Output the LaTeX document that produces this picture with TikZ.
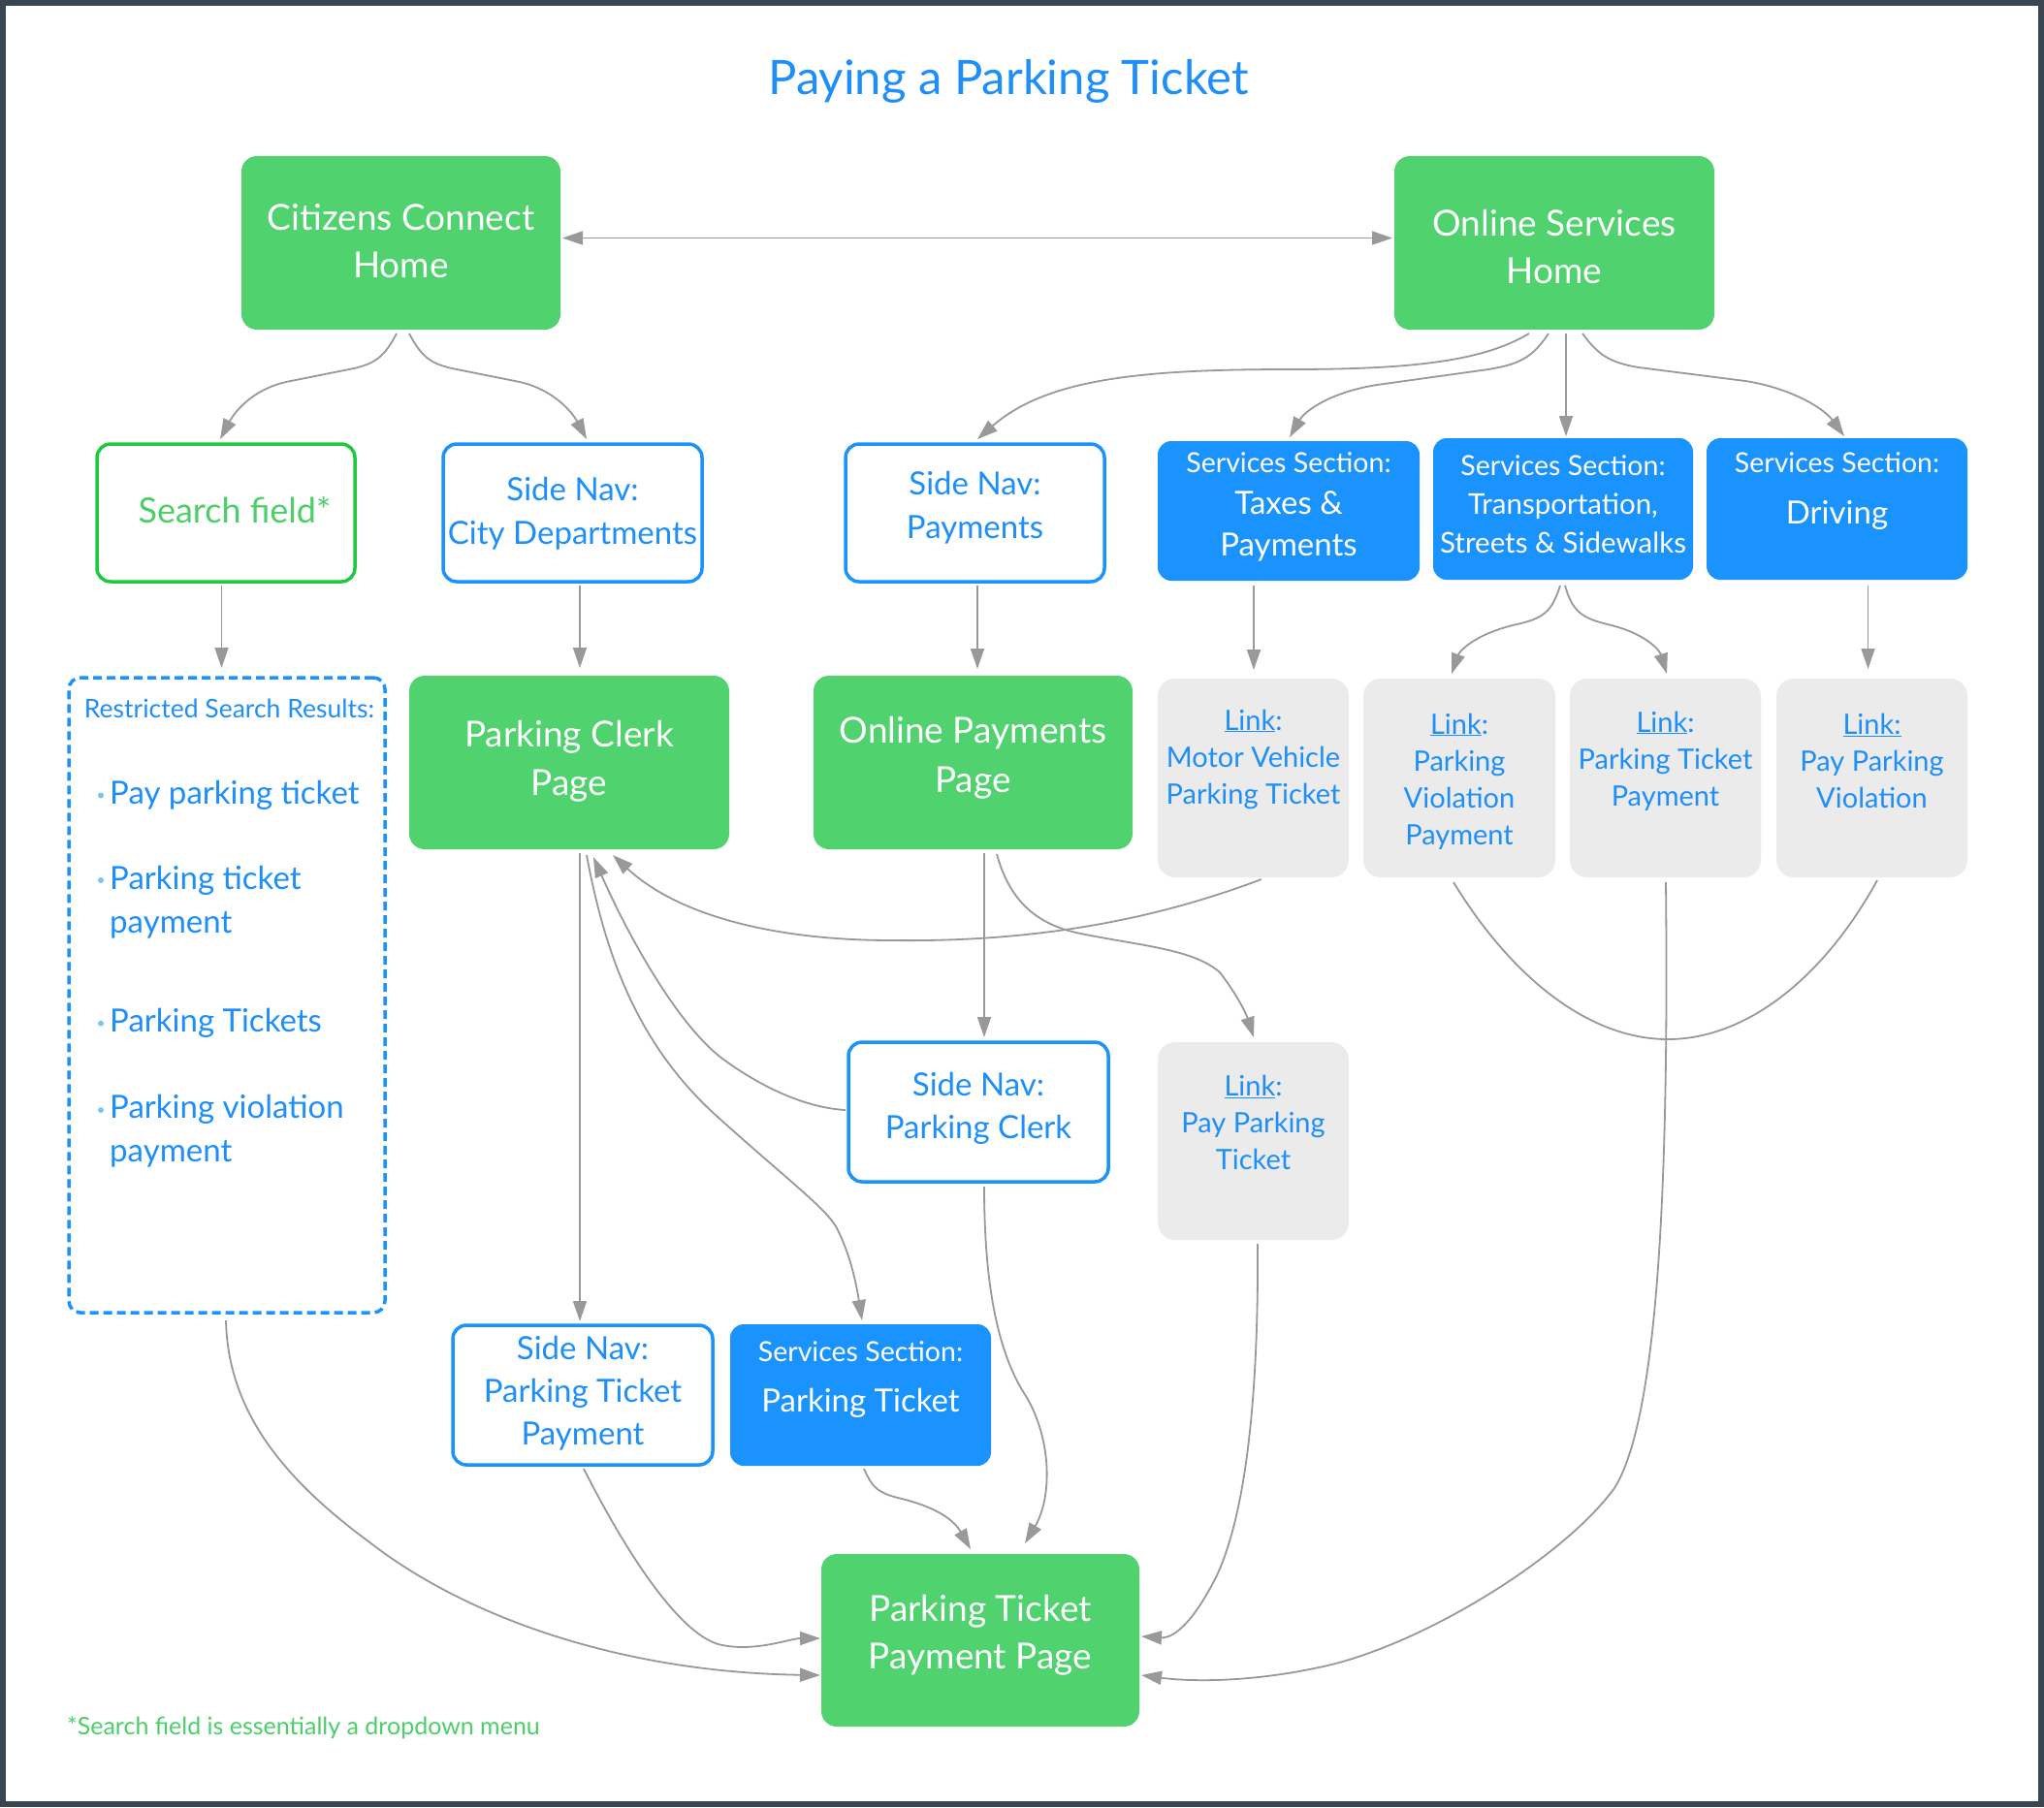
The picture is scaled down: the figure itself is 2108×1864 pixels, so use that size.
\documentclass[tikz,border=0pt]{standalone}
\usepackage{fontspec}
\setmainfont{Lato}
\usetikzlibrary{calc,arrows.meta}
\definecolor{gfill}{HTML}{50D26E}
\definecolor{bfill}{HTML}{1A93FE}
\definecolor{tblue}{HTML}{1E8FFA}
\definecolor{gborder}{HTML}{1EC840}
\definecolor{gtext}{HTML}{4CCF68}
\definecolor{grayfill}{HTML}{EBEBEB}
\definecolor{connc}{HTML}{999999}
\definecolor{framec}{HTML}{3A4552}
\definecolor{bulletc}{HTML}{7CC5F0}
\begin{document}
\begin{tikzpicture}[x=1pt,y=-1pt,
  sz/.style 2 args={minimum width=#1pt, minimum height=#2pt, inner sep=0pt, outer sep=0pt},
  greenbox/.style={rectangle, fill=gfill, rounded corners=16pt},
  bluebox/.style={rectangle, fill=bfill, rounded corners=14pt},
  graybox/.style={rectangle, fill=grayfill, rounded corners=18pt},
  navbox/.style={rectangle, draw=bfill, line width=3.5pt, fill=white, rounded corners=14pt},
  searchbox/.style={rectangle, draw=gborder, line width=3.5pt, fill=white, rounded corners=14pt},
  dashbox/.style={rectangle, draw=bfill, line width=3.5pt, dash pattern=on 9pt off 5pt, rounded corners=12pt},
  wtxt/.style={text=white, align=center, inner sep=0pt},
  btxt/.style={text=tblue, align=center, inner sep=0pt},
  big/.style={font=\fontsize{37}{49}\selectfont},
  mid/.style={font=\fontsize{33}{45}\selectfont},
  small/.style={font=\fontsize{29}{38}\selectfont},
  item/.style={text=tblue, inner sep=0pt, anchor=west, align=left, font=\fontsize{33}{45}\selectfont},
  conn/.style={draw=connc, line width=1.8pt},
  arr/.style={conn, -{Triangle[length=21pt,width=14pt]}},
  darr/.style={conn, {Triangle[length=21pt,width=14pt]}-{Triangle[length=21pt,width=14pt]}}
]
\useasboundingbox (0,0) rectangle (2108,1864);
\fill[white] (0,0) rectangle (2108,1864);
\draw[framec, line width=6pt] (3,3) rectangle (2105,1861);

% title
\node[text=tblue, font=\fontsize{49}{56}\selectfont] (title) at (1040,84) {Paying a Parking Ticket};

% boxes
\node[greenbox, sz={329}{179}] (cch) at (413.5,250.5) {};
\node[greenbox, sz={330}{179}] (osh) at (1603,250.5) {};
\node[searchbox, sz={266}{142}] (sf) at (233,529) {};
\node[navbox, sz={267}{142}] (sncd) at (590.5,529) {};
\node[navbox, sz={267}{142}] (snp) at (1005.5,529) {};
\node[bluebox, sz={270}{144}] (sstp) at (1329,527) {};
\node[bluebox, sz={268}{146}] (sstr) at (1612,525) {};
\node[bluebox, sz={269}{146}] (ssdr) at (1894.5,525) {};
\node[dashbox, sz={326}{655}] (rsr) at (234,1026.5) {};
\node[greenbox, sz={330}{179}] (pcp) at (587,786.5) {};
\node[greenbox, sz={329}{179}] (opp) at (1003.5,786.5) {};
\node[graybox, sz={197}{205}] (lmv) at (1292.5,802.5) {};
\node[graybox, sz={198}{205}] (lpvp) at (1505,802.5) {};
\node[graybox, sz={197}{205}] (lptp) at (1717.5,802.5) {};
\node[graybox, sz={197}{205}] (lppv) at (1930.5,802.5) {};
\node[navbox, sz={268}{144}] (snpc) at (1009,1147) {};
\node[graybox, sz={197}{204}] (lppt) at (1292.5,1177) {};
\node[navbox, sz={268}{144}] (snptp) at (601,1439) {};
\node[bluebox, sz={269}{146}] (sspt) at (887.5,1439) {};
\node[greenbox, sz={328}{178}] (ptpp) at (1011,1692) {};

% texts
\node[wtxt, big] (cch-t) at (413.5,249) {Citizens Connect\\Home};
\node[wtxt, big] (osh-t) at (1603,254) {Online Services\\Home};
\node[text=gtext, inner sep=0pt, font=\fontsize{36}{45}\selectfont] (sf-t) at (242,526) {Search field*};
\node[btxt, mid] (sncd-t) at (590.5,530) {Side Nav:\\City Departments};
\node[btxt, mid] (snp-t) at (1005.5,524) {Side Nav:\\Payments};
\node[wtxt, font=\fontsize{33}{43}\selectfont] (sstp-t) at (1329,523) {{\fontsize{28.5}{43}\selectfont Services Section:}\\Taxes \&\\Payments};
\node[wtxt, font=\fontsize{29.5}{40}\selectfont] (sstr-t) at (1612,520) {{\fontsize{28.5}{40}\selectfont Services Section:}\\Transportation,\\Streets \& Sidewalks};
\node[wtxt, font=\fontsize{33}{43}\selectfont] (ssdr-t) at (1894.5,507) {{\fontsize{28.5}{43}\selectfont Services Section:}\\[10pt]Driving};
\node[wtxt, font=\fontsize{37}{50}\selectfont] (pcp-t) at (587,785) {Parking Clerk\\Page};
\node[wtxt, font=\fontsize{37}{51}\selectfont] (opp-t) at (1003.5,782) {Online Payments\\Page};
\node[btxt, small] (lmv-t) at (1292.5,783) {\underline{Link}:\\Motor Vehicle\\Parking Ticket};
\node[btxt, small] (lpvp-t) at (1505,806) {\underline{Link}:\\Parking\\Violation\\Payment};
\node[btxt, small] (lptp-t) at (1717.5,785) {\underline{Link}:\\Parking Ticket\\Payment};
\node[btxt, small] (lppv-t) at (1930.5,785) {\underline{Link:}\\Pay Parking\\Violation};
\node[btxt, font=\fontsize{33}{44}\selectfont] (snpc-t) at (1009,1143) {Side Nav:\\Parking Clerk};
\node[btxt, small] (lppt-t) at (1292.5,1158) {\underline{Link}:\\Pay Parking\\Ticket};
\node[btxt, font=\fontsize{33}{44}\selectfont] (snptp-t) at (601,1437) {Side Nav:\\Parking Ticket\\Payment};
\node[wtxt, font=\fontsize{33}{43}\selectfont] (sspt-t) at (887.5,1423) {{\fontsize{28.5}{43}\selectfont Services Section:}\\[9pt]Parking Ticket};
\node[wtxt, big] (ptpp-t) at (1011,1687) {Parking Ticket\\Payment Page};

% restricted search results
\node[text=tblue, inner sep=0pt, font=\fontsize{26.5}{32}\selectfont] (rsr-t) at (236.5,731) {Restricted Search Results:};
\node[item] (rsr-i1) at (113,820.5) {Pay parking ticket};
\node[item] (rsr-i2) at (113,930.5) {Parking ticket\\payment};
\node[item] (rsr-i3) at (113,1055.7) {Parking Tickets};
\node[item] (rsr-i4) at (113,1167) {Parking violation\\payment};
\fill[bulletc] (104,820.5) circle (3);
\fill[bulletc] (104,908) circle (3);
\fill[bulletc] (104,1055.7) circle (3);
\fill[bulletc] (104,1145) circle (3);

% footnote
\node[text=gtext, inner sep=0pt, anchor=west, font=\fontsize{25}{30}\selectfont] (foot) at (69,1782) {*Search field is essentially a dropdown menu};

% connectors
\draw[darr] ($(cch.east)+(2,-5)$) -- ($(osh.west)+(-2,-5)$);
\draw[arr] ($(cch.south)+(-4.5,4)$) .. controls (396,369) and (386,375) .. (365,380) -- (295,394) .. controls (260,402) and (242,425) .. ($(sf.north)+(-6,-5)$);
\draw[arr] ($(cch.south)+(8.5,4)$) .. controls (435,369) and (445,375) .. (466,380) -- (536,394) .. controls (571,402) and (590,425) .. ($(sncd.north)+(14.5,-5)$);
\draw[arr] ($(osh.south)+(-26,4)$) .. controls (1530,372) and (1460,381) .. (1330,381) .. controls (1180,381) and (1080,390) .. ($(snp.north)+(2.5,-5)$);
\draw[arr] ($(osh.south)+(-6,4)$) .. controls (1580,370) and (1565,376) .. (1535,381) -- (1420,397) .. controls (1370,405) and (1345,425) .. ($(sstp.north)+(1,-4)$);
\draw[arr] ($(osh.south)+(12,4)$) -- ($(sstr.north)+(3,-2)$);
\draw[arr] ($(osh.south)+(29,4)$) .. controls (1648,366) and (1660,374) .. (1690,379) -- (1800,393) .. controls (1845,400) and (1880,420) .. ($(ssdr.north)+(7.5,-2)$);
\draw[arr] ($(sf.south)+(-4.5,4)$) -- ($(rsr.north)+(-5.5,-10)$);
\draw[arr] ($(sncd.south)+(7.5,4)$) -- ($(pcp.north)+(11,-8)$);
\draw[arr] ($(snp.south)+(2.5,4)$) -- ($(opp.north)+(4.5,-7)$);
\draw[arr] ($(sstp.south)+(-36,5)$) -- ($(lmv.north)+(0.5,-9)$);
\draw[arr] ($(sstr.south)+(-3,6)$) .. controls (1600,632) and (1592,638) .. (1560,645) .. controls (1520,655) and (1505,672) .. ($(lpvp.north)+(-8,-5)$);
\draw[arr] ($(sstr.south)+(2,6)$) .. controls (1622,632) and (1632,638) .. (1662,645) .. controls (1700,655) and (1712,672) .. ($(lptp.north)+(1.5,-5)$);
\draw[arr] ($(ssdr.south)+(32,6)$) -- ($(lppv.north)+(-4,-10)$);
\draw[arr] ($(lmv.south)+(8.5,2)$) .. controls (1200,945) and (1080,972) .. (920,970) .. controls (800,970) and (700,945) .. ($(pcp.south)+(45,6)$);
\draw[arr] ($(snpc.west)+(-3,-2)$) .. controls (835,1143) and (790,1125) .. (745,1092) .. controls (700,1058) and (650,970) .. ($(pcp.south)+(25,8)$);
\draw[arr] ($(pcp.south)+(11,4)$) -- ($(snptp.north)+(-3,-4)$);
\draw[arr] ($(pcp.south)+(18,6)$) .. controls (625,990) and (660,1080) .. (740,1152) .. controls (810,1215) and (850,1245) .. (862,1265) .. controls (878,1295) and (884,1330) .. ($(sspt.north)+(1.5,-4)$);
\draw[arr] ($(opp.south)+(11.5,4)$) -- ($(snpc.north)+(6,-5)$);
\draw[arr] ($(opp.south)+(24.5,5)$) .. controls (1040,925) and (1065,952) .. (1110,962) .. controls (1170,975) and (1230,978) .. (1258,1003) .. controls (1275,1025) and (1285,1045) .. ($(lppt.north)+(0.5,-5)$);
\draw[arr] ($(snpc.south)+(6,5)$) .. controls (1015,1310) and (1025,1390) .. (1058,1440) .. controls (1085,1485) and (1085,1545) .. ($(ptpp.north)+(46,-11)$);
\draw[arr] ($(sspt.south)+(3.5,3)$) .. controls (900,1535) and (905,1540) .. (930,1546) .. controls (970,1556) and (985,1570) .. ($(ptpp.north)+(-10,-5)$);
\draw[arr] ($(snptp.south)+(1,4)$) .. controls (650,1610) and (705,1690) .. (745,1697) .. controls (780,1704) and (815,1690) .. ($(ptpp.west)+(-1,-2)$);
\draw[arr] ($(rsr.south)+(-1,8)$) .. controls (235,1450) and (285,1520) .. (380,1590) .. controls (480,1668) and (640,1725) .. ($(ptpp.west)+(-1,36)$);
\draw[arr] ($(lppt.south)+(4.5,4)$) .. controls (1298,1440) and (1285,1560) .. (1255,1625) .. controls (1230,1675) and (1210,1690) .. ($(ptpp.east)+(2,-4)$);
\draw[arr] ($(lptp.south)+(0.5,5)$) .. controls (1721,1200) and (1712,1460) .. (1665,1535) .. controls (1610,1610) and (1460,1700) .. (1360,1720) .. controls (1290,1735) and (1230,1735) .. ($(ptpp.east)+(2,36)$);
\draw[conn] ($(lpvp.south)+(-6,5)$) .. controls (1560,1010) and (1640,1072) .. (1720,1072) .. controls (1800,1072) and (1880,1010) .. ($(lppv.south)+(5.5,3)$);
\end{tikzpicture}
\end{document}
